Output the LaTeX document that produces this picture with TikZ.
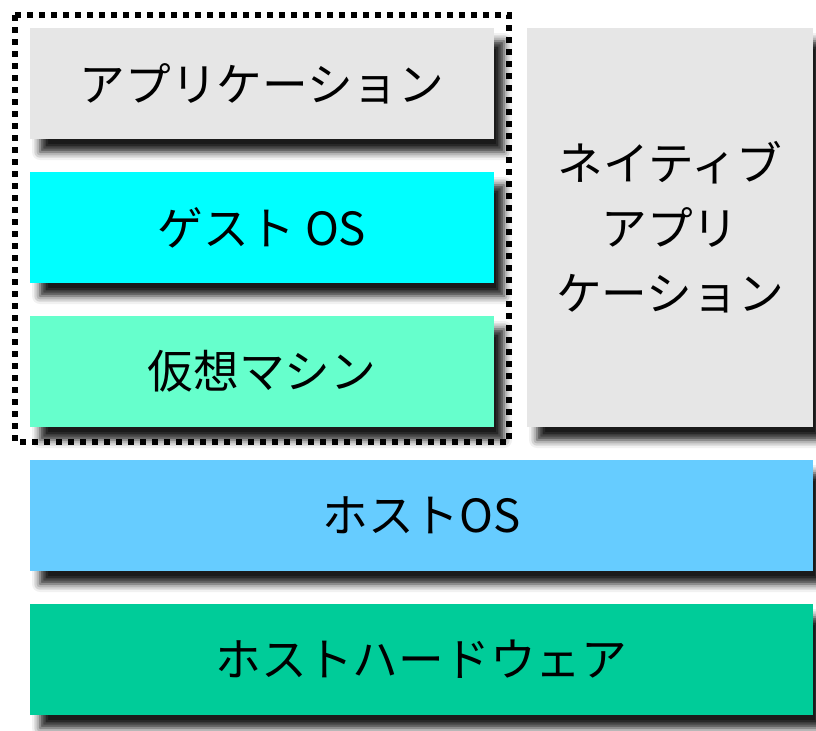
\documentclass[tikz,border=0pt]{standalone}
\usepackage{fontspec}
\newfontfamily\jpfont{Noto Sans CJK JP}
\usetikzlibrary{shadows.blur}
\definecolor{appgray}{HTML}{E6E6E6}
\definecolor{guestcyan}{HTML}{00FFFF}
\definecolor{vmmint}{HTML}{66FFCC}
\definecolor{hostblue}{HTML}{66CCFF}
\definecolor{hwgreen}{HTML}{00CC99}
\tikzset{
  layer/.style={draw=none, inner sep=0pt, align=center,
    font=\jpfont\fontsize{26}{37}\selectfont,
    blur shadow={shadow xshift=0.2cm, shadow yshift=-0.26cm,
      shadow blur radius=0.16cm, shadow opacity=90}},
  vmframe/.style={line width=0.11cm, dash pattern=on 0.11cm off 0.13cm}
}
\begin{document}
\begin{tikzpicture}
			%%%%% START %%%%%
			
			\useasboundingbox (0, 0) rectangle (16.32, -14.6);
			
			\node[layer, fill=appgray, minimum width=9.28cm, minimum height=2.22cm] (app) at (5.24, -1.67) {アプリケーション};
			\node[layer, fill=guestcyan, minimum width=9.28cm, minimum height=2.22cm] (guest) at (5.24, -4.55) {ゲスト OS};
			\node[layer, fill=vmmint, minimum width=9.28cm, minimum height=2.22cm] (vm) at (5.24, -7.43) {仮想マシン};
			
			\node[layer, fill=appgray, minimum width=5.72cm, minimum height=7.98cm] (native) at (13.4, -4.55) {ネイティブ\\アプリ\\ケーション};
			
			\node[layer, fill=hostblue, minimum width=15.66cm, minimum height=2.22cm] (hostos) at (8.43, -10.31) {ホストOS};
			\node[layer, fill=hwgreen, minimum width=15.66cm, minimum height=2.22cm] (hw) at (8.43, -13.19) {ホストハードウェア};
			
			\draw[vmframe] (0.3, -0.3) rectangle (10.18, -8.84);
			
			%%%%% END %%%%%
\end{tikzpicture}
\end{document}
